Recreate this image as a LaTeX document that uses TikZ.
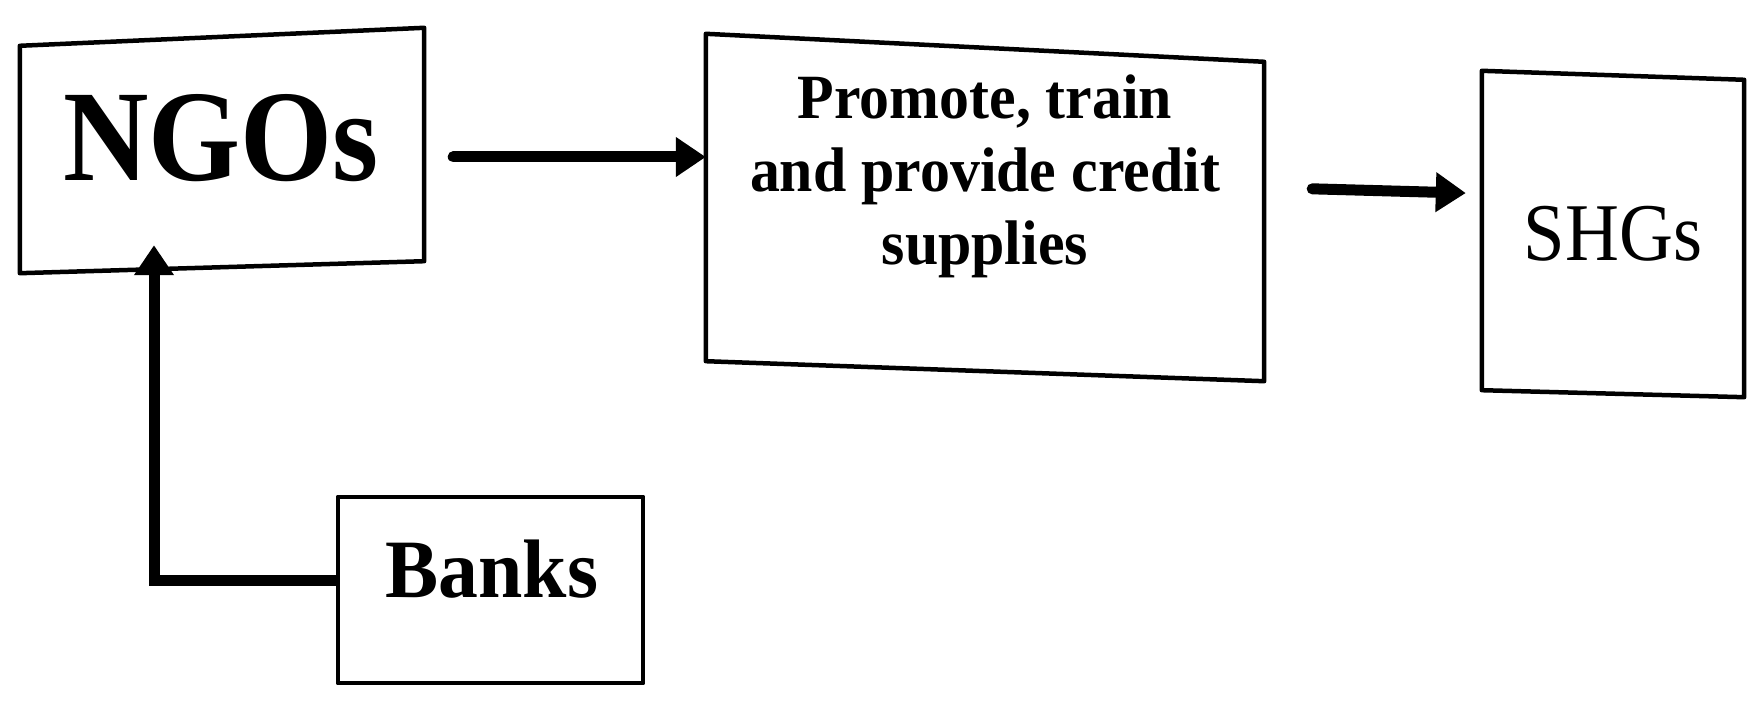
\documentclass[tikz,border=0pt]{standalone}
\usepackage{fontspec}
\setmainfont{Liberation Serif}
\usetikzlibrary{arrows.meta}
\begin{document}
\begin{tikzpicture}[x=1pt,y=-1pt,
  boxline/.style={line width=4.5pt, line join=round},
  boxarea/.style={draw=none, inner sep=0pt, rectangle},
  flow/.style={line width=11pt, line cap=round, -{Triangle[length=30pt,width=38pt]}},
]
\useasboundingbox (0,0) rectangle (1757,708);

% box areas
\node[boxarea, minimum width=404pt, minimum height=230pt] (ngo) at (222,152) {};
\node[boxarea, minimum width=558pt, minimum height=323pt] (prom) at (985,209.5) {};
\node[boxarea, minimum width=262pt, minimum height=318pt] (shg) at (1613,234.5) {};
\node[boxarea, minimum width=305pt, minimum height=186pt] (banks) at (490.5,590) {};

% outlines (slightly skewed as in the scan)
\draw[boxline] ([yshift=-9pt]ngo.north west) -- ([yshift=9pt]ngo.north east)
  -- ([yshift=6pt]ngo.south east) -- ([yshift=-6pt]ngo.south west) -- cycle;
\draw[boxline] ([yshift=14pt]prom.north west) -- ([yshift=-14pt]prom.north east)
  -- ([yshift=-10pt]prom.south east) -- ([yshift=10pt]prom.south west) -- cycle;
\draw[boxline] ([yshift=4.5pt]shg.north west) -- ([yshift=-4.5pt]shg.north east)
  -- ([yshift=-3.5pt]shg.south east) -- ([yshift=3.5pt]shg.south west) -- cycle;
\draw[boxline] (banks.north west) rectangle (banks.south east);

% labels
\node[anchor=base, font=\fontsize{130}{130}\selectfont\bfseries] (ngolabel) at (221,181) {\scalebox{0.91}[1]{NGOs}};
\node[align=center, font=\fontsize{63}{73}\selectfont\bfseries] (promlabel) at (985,176)
  {\scalebox{0.95}[1]{Promote, train}\\\scalebox{0.95}[1]{and provide credit}\\\scalebox{0.95}[1]{supplies}};
\node[anchor=base, font=\fontsize{82}{82}\selectfont] (shglabel) at (1613,261) {\scalebox{0.91}[1]{SHGs}};
\node[anchor=base, font=\fontsize{83}{83}\selectfont\bfseries] (bankslabel) at (492,597) {\scalebox{0.96}[1]{Banks}};

% connectors
\draw[flow, shorten <=29pt] ([yshift=-5pt]ngo.east) -- ([yshift=-5pt]ngo.east -| prom.west);
\draw[flow, shorten <=48pt, shorten >=16pt] ([yshift=22pt]prom.east) -- ([yshift=41pt]shg.west);
\draw[flow, line join=miter, line cap=butt] ([yshift=10pt]banks.west) -| ([xshift=-68pt,yshift=22pt]ngo.south);
\end{tikzpicture}
\end{document}
